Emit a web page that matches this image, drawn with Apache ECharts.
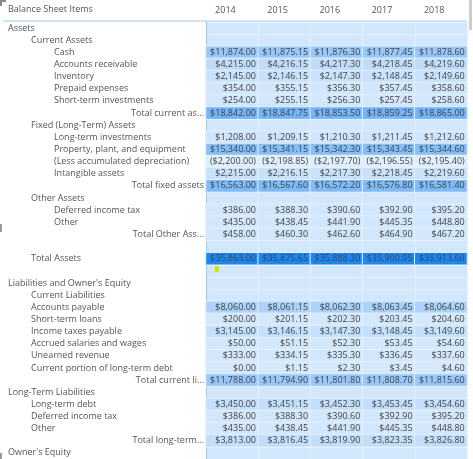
<!DOCTYPE html>
<html><head><meta charset="utf-8">
<script src="https://cdn.jsdelivr.net/npm/echarts@6/dist/echarts.min.js"></script>
<style>html,body{margin:0;padding:0;background:#fff}#c{width:473px;height:459px}</style>
</head><body><div id="c"></div>
<script>
const years = ['2014','2015','2016','2017','2018'];
const rowLabels = ['Assets','Current Assets','Cash','Accounts receivable','Inventory','Prepaid expenses','Short-term investments','Total current as...',
'Fixed (Long-Term) Assets','Long-term investments','Property, plant, and equipment','(Less accumulated depreciation)','Intangible assets','Total fixed assets',
'Other Assets','Deferred income tax','Other','Total Other Ass...','','Total Assets','',
'Liabilities and Owner\'s Equity','Current Liabilities','Accounts payable','Short-term loans','Income taxes payable','Accrued salaries and wages','Unearned revenue','Current portion of long-term debt','Total current li...',
'Long-Term Liabilities','Long-term debt','Deferred income tax','Other','Total long-term...','Owner\'s Equity'];
// 0,1,2 = indent levels, 't' = total row (right-aligned)
const rowLevels = [0,1,2,2,2,2,2,'t',1,2,2,2,2,'t',1,2,2,'t',0,1,0,0,1,1,1,1,1,1,1,'t',0,1,1,1,'t',0];
const v2014 = [null,null,11874.00,4215.00,2145.00,354.00,254.00,18842.00,null,1208.00,15340.00,-2200.00,2215.00,16563.00,null,386.00,435.00,458.00,null,35863.00,null,null,null,8060.00,200.00,3145.00,50.00,333.00,0.00,11788.00,null,3450.00,386.00,435.00,3813.00,null];
const v2015 = [null,null,11875.15,4216.15,2146.15,355.15,255.15,18847.75,null,1209.15,15341.15,-2198.85,2216.15,16567.60,null,388.30,438.45,460.30,null,35875.65,null,null,null,8061.15,201.15,3146.15,51.15,334.15,1.15,11794.90,null,3451.15,388.30,438.45,3816.45,null];
const v2016 = [null,null,11876.30,4217.30,2147.30,356.30,256.30,18853.50,null,1210.30,15342.30,-2197.70,2217.30,16572.20,null,390.60,441.90,462.60,null,35888.30,null,null,null,8062.30,202.30,3147.30,52.30,335.30,2.30,11801.80,null,3452.30,390.60,441.90,3819.90,null];
const v2017 = [null,null,11877.45,4218.45,2148.45,357.45,257.45,18859.25,null,1211.45,15343.45,-2196.55,2218.45,16576.80,null,392.90,445.35,464.90,null,35900.95,null,null,null,8063.45,203.45,3148.45,53.45,336.45,3.45,11808.70,null,3453.45,392.90,445.35,3823.35,null];
const v2018 = [null,null,11878.60,4219.60,2149.60,358.60,258.60,18865.00,null,1212.60,15344.60,-2195.40,2219.60,16581.40,null,395.20,448.80,467.20,null,35913.60,null,null,null,8064.60,204.60,3149.60,54.60,337.60,4.60,11815.60,null,3454.60,395.20,448.80,3826.80,null];
const allVals = [v2014,v2015,v2016,v2017,v2018];

const data = [];
allVals.forEach((arr, xi) => arr.forEach((v, yi) => { if (v !== null) data.push([xi, yi, v]); }));
function fmt(v){
  const s = '$' + Math.abs(v).toLocaleString('en-US',{minimumFractionDigits:2,maximumFractionDigits:2});
  return v < 0 ? '(' + s + ')' : s;
}
const FONT = '"Open Sans", "Noto Sans", sans-serif';
const rowH = 12.29, gridTop = 22;
const chart = echarts.init(document.getElementById('c'));
chart.setOption({
  animation:false,
  textStyle:{fontFamily:FONT},
  grid:{left:206, top:gridTop, width:261, height:rowH*rowLabels.length, show:true, backgroundColor:'#d3e7fc', borderWidth:0},
  xAxis:{type:'category', data:years, position:'top', axisLine:{show:false}, axisTick:{show:false},
    splitLine:{show:true, lineStyle:{color:'#e6f1fd', width:1}},
    axisLabel:{margin:7, color:'#555', fontSize:9, fontFamily:FONT, formatter:v=>'{a|'+v+'}', rich:{a:{width:34, align:'left', color:'#555', fontSize:9, fontFamily:FONT}}}},
  yAxis:{type:'category', data:rowLabels, inverse:true, axisLine:{show:true, lineStyle:{color:'#9cc9f5'}}, axisTick:{show:false},
    splitLine:{show:true, lineStyle:{color:'#e6f1fd', width:1}},
    axisLabel:{interval:0, margin:198, align:'left', color:'#555', fontSize:9, fontFamily:FONT,
      formatter:(v,i)=>{const l=rowLevels[i]; const k = l==='t'?'t':('l'+l); return '{'+k+'|'+(v||' ')+'}';},
      rich:{
        l0:{padding:[0,0,0,0], color:'#555', fontSize:9, fontFamily:FONT},
        l1:{padding:[0,0,0,23], color:'#555', fontSize:9, fontFamily:FONT},
        l2:{padding:[0,0,0,46], color:'#555', fontSize:9, fontFamily:FONT},
        t:{width:196, align:'right', color:'#555', fontSize:9, fontFamily:FONT}
      }}},
  visualMap:{show:false, dimension:2, min:-2200, max:35913.6, inRange:{color:['#e0eefd','#1a87f3']}},
  series:[{type:'heatmap', data:data,
    itemStyle:{borderColor:'#e6f1fd', borderWidth:1},
    emphasis:{disabled:true},
    label:{show:true, position:'insideRight', distance:3, fontSize:9, color:'#444', fontFamily:FONT, formatter:p=>fmt(p.value[2])}}],
  graphic:[
    {type:'text', left:8, top:5, style:{text:'Balance Sheet Items', fontSize:9, fill:'#555', fontFamily:FONT}},
    {type:'line', shape:{x1:3,y1:21,x2:467,y2:21}, style:{stroke:'#9cc9f5', lineWidth:1}},
    {type:'rect', shape:{x:0,y:0,width:2,height:6}, style:{fill:'#888'}},
    {type:'rect', shape:{x:0,y:0,width:6,height:2}, style:{fill:'#888'}},
    {type:'rect', shape:{x:0,y:224,width:2,height:8}, style:{fill:'#999'}},
    {type:'rect', shape:{x:0,y:453,width:2,height:6}, style:{fill:'#999'}},
    {type:'rect', shape:{x:215,y:264,width:4,height:8}, style:{fill:'#d4e600'}},
    {type:'rect', shape:{x:215,y:263,width:4,height:2}, style:{fill:'#2a8a2a'}},
    {type:'rect', shape:{x:469,y:0,width:3,height:30}, style:{fill:'#ccc'}}
  ]
});
</script></body></html>
